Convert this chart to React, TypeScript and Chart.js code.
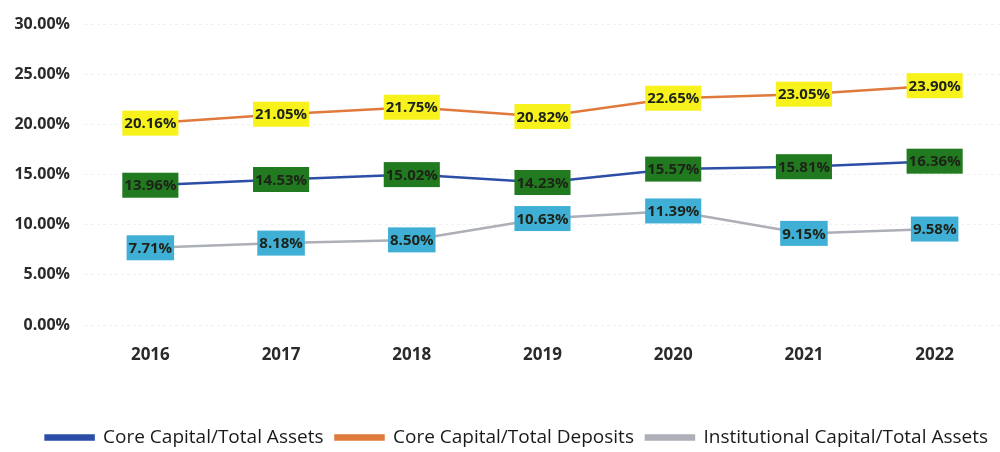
import React, { useEffect, useRef } from "react";
import { Chart, registerables } from "chart.js";

Chart.register(...registerables);

const years = ["2016", "2017", "2018", "2019", "2020", "2021", "2022"];
const coreAssets = [13.96, 14.53, 15.02, 14.23, 15.57, 15.81, 16.36];
const coreDeposits = [20.16, 21.05, 21.75, 20.82, 22.65, 23.05, 23.9];
const instAssets = [7.71, 8.18, 8.5, 10.63, 11.39, 9.15, 9.58];
const yTicks = [0, 5, 10, 15, 20, 25, 30];

const FONT = "'Open Sans', sans-serif";

const boxLabels = {
  id: "boxLabels",
  afterDatasetsDraw(chart: any) {
    const ctx = chart.ctx;
    ctx.save();
    ctx.font = `bold 15px ${FONT}`;
    ctx.textAlign = "center";
    ctx.textBaseline = "middle";
    chart.data.datasets.forEach((ds: any, i: number) => {
      const meta = chart.getDatasetMeta(i);
      meta.data.forEach((pt: any, j: number) => {
        const txt = ds.data[j].toFixed(2) + "%";
        const w = ctx.measureText(txt).width + 4;
        const h = 25;
        ctx.fillStyle = ds.labelBg;
        ctx.fillRect(pt.x - w / 2, pt.y - h / 2, w, h);
        ctx.fillStyle = "#1d2318";
        ctx.fillText(txt, pt.x, pt.y + 1);
      });
    });
    ctx.restore();
  },
};

export default function App() {
  const ref = useRef<HTMLCanvasElement>(null);
  useEffect(() => {
    const chart = new Chart(ref.current!, {
      type: "line",
      data: {
        labels: years,
        datasets: [
          {
            label: "Core Capital/Total Assets",
            data: coreAssets,
            borderColor: "#2d4ea6",
            backgroundColor: "#2d4ea6",
            borderWidth: 2.5,
            pointRadius: 0,
            labelBg: "#217a1f",
          } as any,
          {
            label: "Core Capital/Total Deposits",
            data: coreDeposits,
            borderColor: "#e0793c",
            backgroundColor: "#e0793c",
            borderWidth: 2.5,
            pointRadius: 0,
            labelBg: "#f8f21c",
          } as any,
          {
            label: "Institutional Capital/Total Assets",
            data: instAssets,
            borderColor: "#adafb8",
            backgroundColor: "#adafb8",
            borderWidth: 2.5,
            pointRadius: 0,
            labelBg: "#40afd6",
          } as any,
        ],
      },
      options: {
        animation: false,
        responsive: false,
        layout: { padding: { top: 19, right: 0, bottom: 0, left: 0 } },
        scales: {
          x: {
            offset: true,
            grid: { display: false },
            border: { display: false },
            ticks: {
              font: { family: FONT, size: 17, weight: "bold" },
              color: "#2a2a2a",
              padding: 12,
            },
            afterFit: (s: any) => {
              s.height = 91;
            },
          },
          y: {
            min: 0,
            max: 30,
            afterBuildTicks: (s: any) => {
              s.ticks = yTicks.map((v) => ({ value: v }));
            },
            afterFit: (s: any) => {
              s.width = 85;
            },
            border: { display: false, dash: [3, 3] },
            grid: { color: "#f1f1f1", drawTicks: false },
            ticks: {
              font: { family: FONT, size: 16, weight: "bold" },
              color: "#2a2a2a",
              padding: 15,
              callback: (v: any) => Number(v).toFixed(2) + "%",
            },
          },
        },
        plugins: {
          legend: {
            position: "bottom",
            align: "end",
            maxHeight: 36,
            labels: {
              boxWidth: 48,
              boxHeight: 4,
              padding: 12,
              color: "#1a1a1a",
              font: { family: FONT, size: 19 },
            },
          },
          tooltip: { enabled: false },
        },
      } as any,
      plugins: [boxLabels],
    });
    return () => chart.destroy();
  }, []);
  return (
    <div style={{ position: "fixed", left: 0, top: 0, width: 1000, height: 452, background: "#fff" }}>
      <canvas ref={ref} width={1000} height={452} />
    </div>
  );
}
